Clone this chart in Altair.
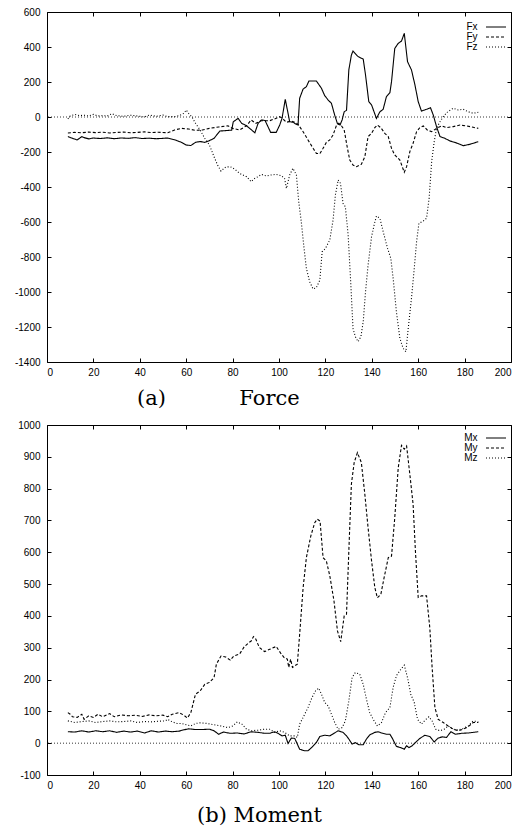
import altair as alt
import pandas as pd

# ---------------- data ----------------
x_ticks = [0, 20, 40, 60, 80, 100, 120, 140, 160, 180, 200]
force_ticks = [-1400, -1200, -1000, -800, -600, -400, -200, 0, 200, 400, 600]
moment_ticks = [-100, 0, 100, 200, 300, 400, 500, 600, 700, 800, 900, 1000]
zero_level = [0]

fx_x = [9, 11, 13, 15, 16, 18, 20, 23, 26, 29, 32, 35, 38, 41, 44, 47, 50, 52, 55, 58, 60, 62, 64, 66, 68, 70,
        72, 74.5, 77, 79.6, 80.3, 82.4, 83.9, 86, 89.6, 91, 92.4, 94, 96.4, 98.8, 100.3, 101.3, 102.7, 103.9,
        104.6, 106, 107.5, 108.2, 108.9, 110.4, 111.8, 112.9, 116.1, 118.3, 119.7, 121.2, 122.6, 124, 125.2,
        126.3, 127.2, 128.1, 129.1, 130.1, 131.2, 131.9, 134.1, 136.3, 137.3, 138.7, 139.9, 142, 143.5, 144.9,
        146.3, 147.8, 148.5, 149.9, 151.4, 152.8, 154, 155.4, 157.1, 158.6, 160, 161.4, 163.6, 165.3, 166.5,
        167.9, 169.4, 171.5, 173.7, 175.8, 178, 179.4, 182.3, 185.9]
fx_y = [-112, -122, -131, -112, -118, -125, -120, -123, -119, -124, -120, -122, -118, -123, -121, -124, -122,
        -120, -130, -145, -160, -163, -145, -140, -145, -135, -122, -80, -78, -75, -27, -8, -36, -50, -90, -36,
        -17, -20, -88, -88, -46, -8, 101, 21, -27, -30, -42, -46, 107, 160, 173, 206, 206, 164, 122, 97, 78, 11,
        -38, -46, -17, 30, 38, 269, 354, 377, 345, 331, 240, 88, 69, -8, 30, 44, 116, 139, 202, 392, 421, 434,
        478, 316, 269, 183, 88, 34, 44, 53, 11, -55, -112, -122, -137, -145, -156, -164, -156, -141]

fy_x = [9, 12, 15, 18, 21, 24, 27, 30, 33, 36, 39, 42, 45, 48, 52, 55, 58, 61, 64, 67, 70, 74, 78, 80, 83, 86,
        88, 90, 92.4, 96, 98.1, 100.3, 101.7, 103.2, 105.3, 106.8, 108.2, 110.4, 112.5, 114.7, 116.1, 117.6,
        119, 120.4, 121.9, 123.3, 124.7, 125.8, 126.9, 128.1, 129.5, 130.5, 131.9, 133.4, 135.5, 137, 138.4,
        139.9, 141.3, 142.4, 143.9, 145.6, 147.1, 148.5, 149.9, 152.1, 154, 155, 156.4, 157.8, 159.3, 160.7,
        162.2, 163.9, 165.8, 167.9, 170.1, 172.2, 175.1, 178, 180.9, 183.7, 185.9]
fy_y = [-91, -88, -90, -86, -89, -87, -91, -88, -86, -90, -88, -85, -89, -87, -90, -74, -65, -69, -76, -74, -65,
        -57, -50, -65, -74, -50, -17, -36, -21, -21, -11, 2, -11, -30, -23, -30, -42, -84, -131, -179, -208,
        -210, -179, -145, -131, -103, -50, -36, -50, -74, -179, -246, -274, -284, -270, -227, -112, -93, -61,
        -46, -61, -93, -112, -179, -217, -246, -316, -284, -198, -150, -84, -61, -51, -74, -84, -65, -50, -61,
        -55, -46, -51, -59, -65]

fz_x = [9, 10, 12, 14, 16, 18, 20, 22, 24, 26, 28, 30, 33, 36, 39, 42, 44, 47, 50, 52, 55, 57, 59, 60, 61, 62.5,
        64, 66, 68, 70, 72, 73.5, 75, 77, 79, 81, 83, 86, 88, 89.5, 91, 92.4, 94.5, 96.7, 98.8, 101, 102.4,
        103.2, 104.6, 106, 107.5, 108.5, 109.6, 110.8, 111.8, 113.2, 114.7, 116.1, 117.6, 118.6, 120, 121.9,
        123.3, 124.3, 125.5, 126.5, 127.6, 128.6, 129.8, 130.9, 131.9, 132.9, 134.1, 135.3, 136.3, 137.3, 138.4,
        139.9, 141, 142, 143.5, 144.9, 146.8, 148.2, 149.2, 150.6, 152.1, 153.5, 154.7, 155.7, 157.1, 158.3,
        159.3, 160.3, 162.2, 163.6, 164.7, 165.8, 166.9, 167.9, 169.4, 170.8, 172.7, 175.1, 177.3, 179.4, 181.6,
        183.7, 185.9]
fz_y = [-11, 6, 15, 8, 10, 6, 15, 6, 8, 6, 19, 8, 4, 10, 6, 0, 11, 4, 11, 2, 2, 8, 21, 40, 21, 0, -36, -74, -122,
        -160, -227, -274, -309, -286, -284, -299, -322, -341, -370, -351, -341, -328, -337, -331, -328, -335,
        -351, -408, -331, -293, -331, -484, -598, -751, -865, -941, -983, -975, -932, -770, -751, -703, -589,
        -446, -360, -379, -494, -513, -674, -941, -1208, -1255, -1284, -1255, -1170, -998, -846, -684, -617,
        -566, -579, -655, -751, -808, -922, -1112, -1265, -1322, -1341, -1208, -1036, -865, -713, -608, -594,
        -579, -465, -255, -141, -65, -27, 2, 30, 50, 40, 44, 30, 21, 27]

mx_x = [9, 12, 15, 18, 21, 24, 27, 30, 33, 36, 39, 42, 45, 48, 51, 54, 57, 59, 61, 64, 67, 70, 72, 74, 76, 79,
        82, 85, 88, 91, 93.8, 96, 98.1, 99.6, 101.3, 102.7, 103.9, 105.3, 106.8, 107.9, 108.9, 111.1, 112.5,
        114, 116.1, 117.6, 119.7, 121.9, 123.7, 125.5, 127.6, 129.1, 130.1, 131.5, 132.9, 134.4, 136.3, 137.7,
        139.1, 141.3, 142.7, 144.2, 146.3, 147.8, 148.8, 150.6, 152.5, 154, 155, 156, 157.4, 158.8, 160.7,
        162.9, 165, 166.9, 168.6, 170.4, 172.2, 174.1, 176.1, 178.7, 181.6, 185.9]
mx_y = [36, 35, 39, 35, 39, 36, 39, 34, 38, 35, 38, 32, 39, 35, 38, 36, 38, 42, 45, 43, 43, 44, 39, 28, 35, 31,
        32, 29, 36, 34, 31, 31, 36, 31, 23, 25, -1, 16, 15, -3, -19, -24, -24, -14, 2, 21, 25, 23, 31, 39, 34,
        23, 13, -3, 2, -5, -5, 13, 26, 34, 36, 32, 28, 28, 16, -10, -14, -19, -8, -14, -8, 2, 15, 25, 21, 4, 16,
        20, 18, 36, 28, 31, 32, 36]

my_x = [9, 10, 11, 13, 15, 16, 18, 20, 22, 24, 27, 29, 32, 35, 38, 41, 44, 47, 50, 52, 54, 57, 59, 60.5, 62, 64,
        66, 68, 70, 72, 73, 75, 77, 79, 80.5, 83, 85, 87, 88, 89, 90, 91.5, 93.8, 96, 98.8, 100.7, 102.2, 103.6,
        104.2, 105, 105.8, 106.8, 107.9, 108.9, 110.4, 111.8, 113.7, 115.4, 116.5, 117.7, 119, 120.4, 121.9,
        123.7, 125.2, 126.6, 128.1, 129.1, 130.1, 131.2, 132.4, 133.8, 135.5, 137, 138.4, 139.9, 141.3, 142.4,
        143.9, 145.3, 147.1, 148.5, 149.9, 151.4, 152.8, 154, 155, 156.4, 157.8, 158.8, 160, 161.4, 163.6, 165,
        166, 167.2, 168.6, 170.8, 172.9, 175.1, 177.3, 179.4, 181.6, 183.7, 185.9]
my_y = [96, 91, 83, 81, 91, 75, 86, 81, 91, 83, 93, 83, 89, 86, 88, 84, 89, 86, 88, 83, 91, 96, 88, 79, 96, 154,
        164, 185, 191, 206, 248, 274, 271, 261, 274, 280, 303, 316, 321, 335, 327, 301, 288, 295, 304, 283, 269,
        264, 238, 264, 238, 243, 248, 342, 489, 583, 651, 693, 704, 698, 583, 573, 526, 447, 353, 319, 400, 405,
        604, 814, 882, 913, 882, 782, 677, 573, 489, 457, 468, 520, 583, 588, 709, 866, 936, 924, 934, 845, 751,
        604, 458, 463, 463, 363, 238, 112, 75, 65, 54, 44, 39, 44, 52, 65, 65]

mz_x = [9, 12, 15, 18, 21, 24, 27, 30, 33, 36, 39, 42, 45, 48, 51, 52, 54, 56, 58, 60, 62, 64, 66, 69, 72, 75,
        78, 80, 82, 84, 86, 88, 91, 93.8, 96, 98.1, 100.3, 102.4, 104.6, 106.8, 107.9, 108.9, 110.4, 112.5,
        114.2, 115.7, 117.1, 118.3, 119.7, 121.2, 122.6, 124, 125.5, 127.2, 128.6, 130.1, 131.5, 132.9, 134.8,
        136.3, 137.7, 139.1, 141, 142.4, 144.2, 145.9, 147.8, 149.2, 150.6, 152.5, 154, 155.4, 156.8, 158.3,
        159.7, 161.4, 162.9, 164.6, 166, 167.5, 169.4, 171.2, 172.9, 175.1, 177.3, 179.4, 181.6, 183.7, 185.9]
mz_y = [70, 65, 68, 70, 65, 68, 70, 67, 68, 70, 65, 68, 67, 69, 70, 75, 67, 62, 62, 58, 54, 62, 64, 62, 58, 54,
        49, 54, 67, 60, 44, 39, 41, 44, 44, 34, 39, 34, 23, 23, 18, 60, 81, 112, 143, 164, 173, 154, 128, 117,
        91, 65, 44, 49, 70, 133, 206, 222, 217, 185, 138, 96, 70, 54, 65, 96, 112, 175, 212, 232, 245, 206, 154,
        128, 75, 60, 72, 83, 70, 44, 39, 44, 54, 44, 41, 47, 54, 70, 67]

force_names = ["Fx", "Fy", "Fz"]
moment_names = ["Mx", "My", "Mz"]
dash_styles = [[1, 0], [3, 2], [1, 2]]


def long_table(series):
    rows = []
    for name, xs, ys in series:
        for i, (a, b) in enumerate(zip(xs, ys)):
            rows.append({"series": name, "x": a, "y": b, "i": i})
    return pd.DataFrame(rows)


force_df = long_table([("Fx", fx_x, fx_y), ("Fy", fy_x, fy_y), ("Fz", fz_x, fz_y)])
moment_df = long_table([("Mx", mx_x, mx_y), ("My", my_x, my_y), ("Mz", mz_x, mz_y)])

SANS = "Liberation Sans"
LABEL_EXPR = "'' + datum.value"
# legend sample: a short horizontal stroke drawn to the right of the label
SAMPLE_PATH = "M-5,0H5"


def panel(df, names, ydom, yticks, title_text, title_dx, title_offset, legend_y):
    xs = alt.Scale(domain=[0, 200], nice=False, zero=False)
    ys = alt.Scale(domain=ydom, nice=False, zero=False)

    zero = alt.Chart(pd.DataFrame({"y": zero_level})).mark_rule(
        color="black", strokeDash=[1, 2], strokeWidth=0.8
    ).encode(y=alt.Y("y:Q", scale=ys, axis=None))

    lines = alt.Chart(df).mark_line(color="black", strokeWidth=1.1).encode(
        x=alt.X("x:Q", scale=xs, axis=alt.Axis(
            orient="bottom", values=x_ticks, title=None, domain=False, grid=False,
            tickSize=4, offset=-4, labelPadding=5, labelExpr=LABEL_EXPR)),
        y=alt.Y("y:Q", scale=ys, axis=alt.Axis(
            orient="left", values=yticks, title=None, domain=False, grid=False,
            tickSize=4, offset=-4, labelPadding=7, labelExpr=LABEL_EXPR)),
        strokeDash=alt.StrokeDash("series:N", scale=alt.Scale(domain=names, range=dash_styles),
                                  legend=alt.Legend(
                                      orient="none", legendX=444, legendY=legend_y, title=None,
                                      symbolType=SAMPLE_PATH, symbolSize=16, symbolStrokeColor="black",
                                      symbolFillColor="transparent",
                                      symbolStrokeWidth=1, labelAlign="right",
                                      labelOffset={"expr": "-23.5"},
                                      rowPadding={"expr": "-4"}, padding=0,
                                      labelFont=SANS, labelFontSize=10, labelColor="black")),
        detail="series:N",
        order="i:Q",
    )

    mirror = alt.Chart(df).mark_line(opacity=0).encode(
        x=alt.X("x:Q", scale=xs, axis=alt.Axis(
            orient="top", values=x_ticks, title=None, domain=False, grid=False, labels=False,
            tickSize=4, offset=-4)),
        y=alt.Y("y:Q", scale=ys, axis=alt.Axis(
            orient="right", values=yticks, title=None, domain=False, grid=False, labels=False,
            tickSize=4, offset=-4)),
        detail="series:N",
    )

    return alt.layer(zero, lines, mirror).resolve_axis(
        x="independent", y="independent"
    ).properties(
        width=464, height=350,
        title=alt.TitleParams(text=title_text, orient="bottom", anchor="start", frame="group",
                              dx=title_dx, offset=title_offset, font="DejaVu Serif",
                              fontSize=21, fontWeight="normal", color="black"),
    )


NB = "\u00a0"
top = panel(force_df, force_names, [-1400, 600], force_ticks, "(a)" + NB * 11 + "Force", 90, 11, 10)
bottom = panel(moment_df, moment_names, [-100, 1000], moment_ticks, "(b)" + NB + "Moment", 150, 15, 8)

chart = alt.vconcat(top, bottom, spacing=63, bounds="flush").resolve_scale(
    y="independent", strokeDash="independent"
).resolve_legend(strokeDash="independent").properties(
    padding={"left": 13, "top": 6, "right": 5, "bottom": 5}
).configure_view(
    stroke="black", strokeWidth=1
).configure_axis(
    labelFont=SANS, labelFontSize=10, labelColor="black", tickColor="black", tickWidth=1
)

chart.save("out.html", embed_options={"renderer": "svg", "actions": False})
